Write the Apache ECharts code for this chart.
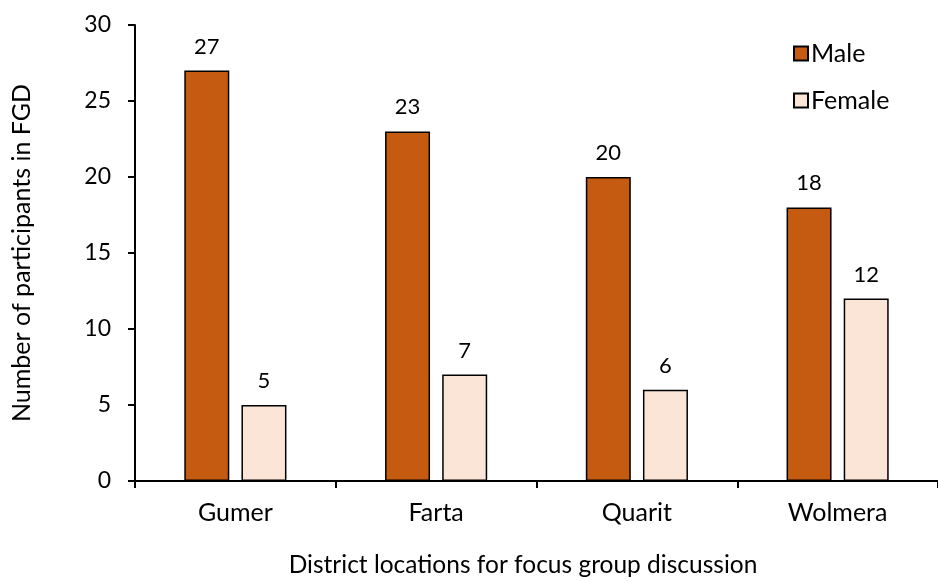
<!DOCTYPE html>
<html>
<head>
<meta charset="utf-8">
<script src="https://cdn.jsdelivr.net/npm/echarts@6/dist/echarts.min.js"></script>
<style>
  html, body { margin: 0; padding: 0; background: #fff; }
  #chart { width: 938px; height: 581px; }
</style>
</head>
<body>
<div id="chart"></div>
<script>
var districts = ['Gumer', 'Farta', 'Quarit', 'Wolmera'];
var maleCounts = [27, 23, 20, 18];
var femaleCounts = [5, 7, 6, 12];
var yTicks = { min: 0, max: 30, step: 5 };

var chart = echarts.init(document.getElementById('chart'));
var font = 'Lato';

var option = {
    backgroundColor: '#ffffff',
    textStyle: { fontFamily: font, color: '#000' },
    title: {
        text: 'District locations for focus group discussion',
        left: 518,
        top: 548,
        textAlign: 'center',
        textStyle: { fontFamily: font, fontSize: 24.5, fontWeight: 'normal', color: '#000' }
    },
    legend: {
        orient: 'vertical',
        left: 788,
        top: 36,
        itemWidth: 14,
        itemHeight: 14,
        itemGap: 22,
        icon: 'rect',
        textStyle: { fontFamily: font, fontSize: 25, color: '#000', padding: [0, 0, 0, -2] },
        data: ['Male', 'Female']
    },
    grid: {
        left: 135,
        top: 25,
        width: 808,
        height: 456
    },
    xAxis: {
        type: 'category',
        data: districts,
        axisLine: { lineStyle: { color: '#000', width: 2 } },
        axisTick: { show: true, length: 7, lineStyle: { color: '#000', width: 2 } },
        axisLabel: { fontFamily: font, fontSize: 25, color: '#000', margin: 19 }
    },
    yAxis: {
        type: 'value',
        min: yTicks.min,
        max: yTicks.max,
        interval: yTicks.step,
        name: 'Number of participants in FGD',
        nameLocation: 'middle',
        nameGap: 101,
        nameTextStyle: { fontFamily: font, fontSize: 25, color: '#000' },
        axisLine: { show: true, lineStyle: { color: '#000', width: 2 } },
        axisTick: { show: true, length: 7, lineStyle: { color: '#000', width: 2 } },
        axisLabel: { fontFamily: font, fontSize: 23, color: '#000', margin: 24 },
        splitLine: { show: false }
    },
    series: [{
        name: 'Male',
        type: 'bar',
        data: maleCounts,
        barWidth: 45,
        barGap: '27%',
        itemStyle: { color: '#C55A11', borderColor: '#000', borderWidth: 1.5 },
        label: { show: true, position: 'top', distance: 13, fontFamily: font, fontSize: 22, color: '#000' }
    }, {
        name: 'Female',
        type: 'bar',
        data: femaleCounts,
        barWidth: 45,
        itemStyle: { color: '#FBE5D6', borderColor: '#000', borderWidth: 1.5 },
        label: { show: true, position: 'top', distance: 13, fontFamily: font, fontSize: 22, color: '#000' }
    }]
};
chart.setOption(option);
</script>
</body>
</html>
